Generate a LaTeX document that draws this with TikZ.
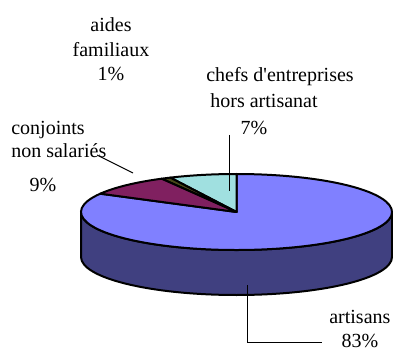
\documentclass[tikz,border=0pt]{standalone}
\usepackage{fontspec}
\setmainfont{Liberation Serif}[Ligatures=TeXOff]
\usepackage{tikz}
\definecolor{artisan}{RGB}{128,128,255}
\definecolor{artisanlado}{RGB}{64,64,128}
\definecolor{conjoint}{RGB}{128,32,96}
\definecolor{chefs}{RGB}{160,224,224}
\definecolor{aides}{RGB}{72,72,24}

\begin{document}
\begin{tikzpicture}[x=0.6pt, y=0.6pt,
  fatia/.style={draw=black, line width=1.2pt, line join=round},
  guia/.style={draw=black, line width=0.6pt},
  rot/.style={inner sep=0pt, anchor=base, font=\fontsize{12}{15}\selectfont}]
\useasboundingbox (0,0) rectangle (393,349);
\coordinate (C) at (236.5,137);
\coordinate (B) at (236.5,92);
% Lado
\draw[fatia, fill=artisanlado] (B) ++(180:155.5 and 38)
  arc[start angle=180, end angle=360, x radius=155.5, y radius=38]
  -- ++(0,45) arc[start angle=0, end angle=-180, x radius=155.5, y radius=38] -- cycle;
% Fatias
\draw[fatia, fill=artisan] (C) -- ++(151.2:155.5 and 38)
  arc[start angle=151.2, end angle=450, x radius=155.5, y radius=38] -- cycle;
\draw[fatia, fill=chefs] (C) -- ++(90:155.5 and 38)
  arc[start angle=90, end angle=115.2, x radius=155.5, y radius=38] -- cycle;
\draw[fatia, fill=aides] (C) -- ++(115.2:155.5 and 38)
  arc[start angle=115.2, end angle=118.8, x radius=155.5, y radius=38] -- cycle;
\draw[fatia, fill=conjoint] (C) -- ++(118.8:155.5 and 38)
  arc[start angle=118.8, end angle=151.2, x radius=155.5, y radius=38] -- cycle;
% Rotulos
\node[rot] (aides1) at (111,317) {aides};
\node[rot] (aides2) at (111,292) {familiaux};
\node[rot] (aides3) at (111,268) {1\%};
\node[rot] (chefs1) at (280,267) {chefs d'entreprises};
\node[rot] (chefs2) at (264,241) {hors artisanat};
\node[rot] (chefs3) at (254,214) {7\%};
\node[rot, anchor=base west] (conj1) at (11,214) {conjoints};
\node[rot, anchor=base west] (conj2) at (11,191) {non salariés};
\node[rot] (conj3) at (43,157) {9\%};
\node[rot, anchor=base west] (art1) at (329,26) {artisans};
\node[rot] (art2) at (360,2) {83\%};
% Guias
\coordinate (gconjA) at (97,194);
\coordinate (gconjB) at (133,176);
\coordinate (gchefsA) at (229,214);
\coordinate (gchefsB) at (229,158);
\coordinate (gartA) at (247,64);
\coordinate (gartB) at (322,7);
\draw[guia] (gconjA) -- (gconjB);
\draw[guia] (gchefsA) -- (gchefsB);
\draw[guia] (gartA) |- (gartB);
\end{tikzpicture}
\end{document}
